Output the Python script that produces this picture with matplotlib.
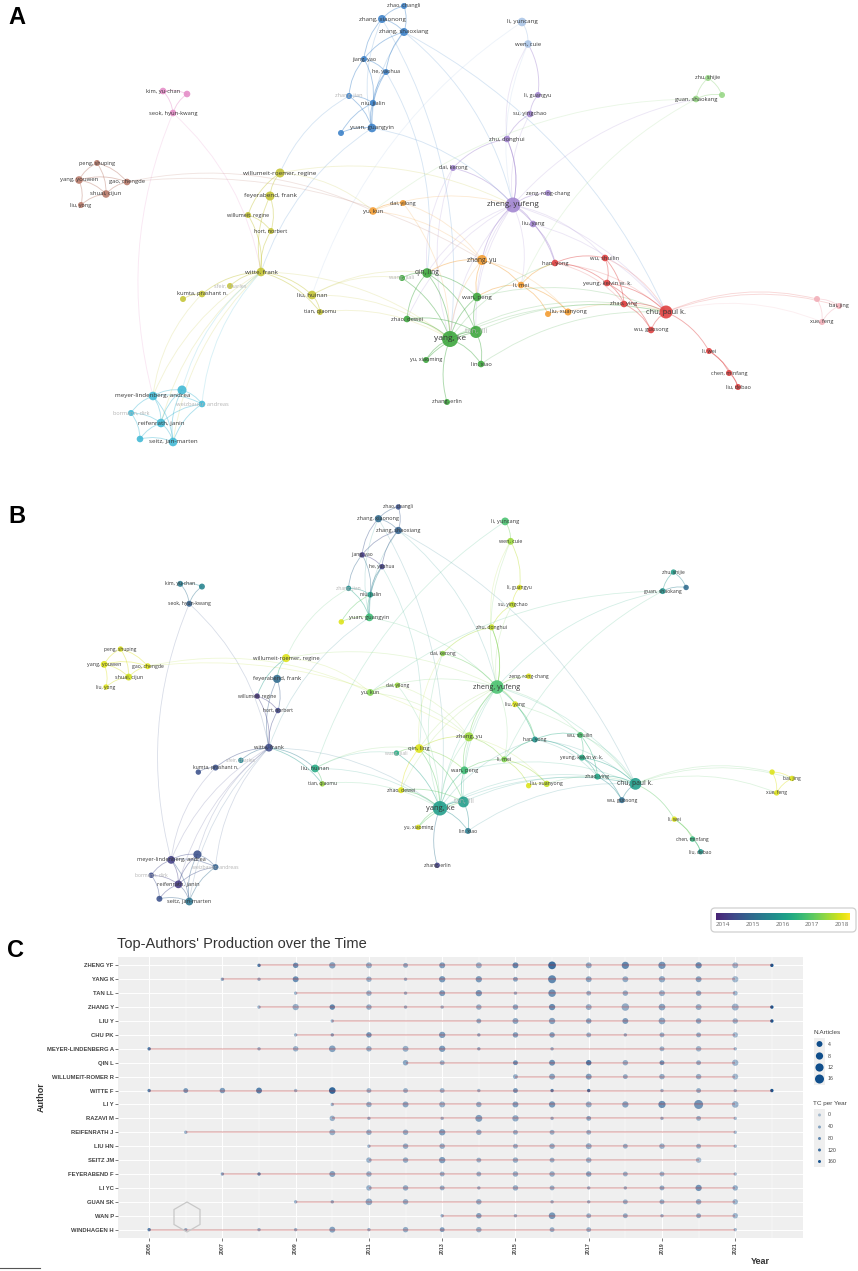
import numpy as np
import matplotlib
matplotlib.use('Agg')
import matplotlib.pyplot as plt
from matplotlib.path import Path
from matplotlib.patches import PathPatch, FancyBboxPatch, RegularPolygon, Rectangle
import matplotlib.colors as mcolors

# ---------------- network data (layout coordinates of the map) ----------------
node_id = ['zhao_changli','zhang_xiaonong','zhang_shaoxiang','jiang_yao','he_yaohua','zhang_jian','niu_jialin','yuan_guangyin','blue_u',
           'zheng_yufeng','zeng_rongchang','liu_yang','dai_kerong','zhu_donghui','su_yingchao','li_guangyu',
           'li_yuncang','wen_cuie',
           'zhu_shijie','guan_shaokang','lgreen_u',
           'kim_yuchan','pink_u','seok_hyunkwang',
           'peng_shuping','yang_youwen','gao_chengde','shuai_cijun','liu_yong',
           'willumeit_roemer','feyerabend','willumeit_regine','hort_norbert','witte_frank','sfeir_charles','kumta','yellow_u','liu_huinan','tian_qiaomu',
           'yu_kun','dai_yilong','zhang_yu','li_mei','liu_xuanyong','orange_u',
           'qin_ling','wang_jiali','wan_peng','zhao_dewei','tan_lili','yang_ke','yu_xiaoming','lin_xiao','zhang_erlin',
           'han_yong','wu_shuilin','yeung_kelvin','zhao_ying','chu_paulk','wu_guosong','li_wei','chen_minfang','liu_debao',
           'lpink_u','bai_jing','xue_feng',
           'meyer_lindenberg','cyan_u1','weizbauer','bormann','reifenrath','cyan_u2','seitz']
node_label = ['zhao, changli','zhang, xiaonong','zhang, shaoxiang','jiang, yao','he, yaohua','zhang, jian','niu, jialin','yuan, guangyin','',
              'zheng, yufeng','zeng, rong-chang','liu, yang','dai, kerong','zhu, donghui','su, yingchao','li, guangyu',
              'li, yuncang','wen, cuie',
              'zhu, shijie','guan, shaokang','',
              'kim, yu-chan','','seok, hyun-kwang',
              'peng, shuping','yang, youwen','gao, chengde','shuai, cijun','liu, yong',
              'willumeit-roemer, regine','feyerabend, frank','willumeit, regine','hort, norbert','witte, frank','sfeir, charles','kumta, prashant n.','','liu, huinan','tian, qiaomu',
              'yu, kun','dai, yilong','zhang, yu','li, mei','liu, xuanyong','',
              'qin, ling','wang, jiali','wan, peng','zhao, dewei','tan, lili','yang, ke','yu, xiaoming','lin, xiao','zhang, erlin',
              'han, yong','wu, shuilin','yeung, kelvin w. k.','zhao, ying','chu, paul k.','wu, guosong','li, wei','chen, minfang','liu, debao',
              '','bai, jing','xue, feng',
              'meyer-lindenberg, andrea','','weizbauer, andreas','bormann, dirk','reifenrath, janin','','seitz, jan-marten']
node_x = [404,382,404,364,386,349,373,372,341,
          513,548,533,453,507,530,538,
          522,528,
          708,696,722,
          163,187,173,
          97,79,127,106,81,
          280,270,248,271,261,230,202,183,312,320,
          373,403,482,521,568,548,
          427,402,477,407,476,450,426,481,447,
          555,605,607,624,666,651,709,729,738,
          817,839,822,
          153,182,202,131,161,140,173]
node_y = [6,19,32,59,72,96,103,128,133,
          205,193,224,168,139,114,95,
          22,44,
          78,99,95,
          91,94,113,
          163,180,182,194,205,
          173,196,215,231,272,286,294,299,295,312,
          211,203,260,285,312,314,
          273,278,297,319,332,339,360,364,402,
          263,258,283,304,312,330,351,373,387,
          299,306,322,
          396,390,404,413,423,439,442]
node_cluster = ['blue']*9 + ['purple']*7 + ['lightblue']*2 + ['lightgreen']*3 + ['pink']*3 + ['brown']*5 + \
               ['yellow']*10 + ['orange']*6 + ['green']*9 + ['red']*9 + ['lightpink']*3 + ['cyan']*7
node_weight = [3,4,4,3,3,3,3.2,4.3,3,
               7.5,3,3.3,3,3.3,3.3,3,
               4.3,3.8,
               3,3.3,3,
               3.3,3.3,3.3,
               3,3.8,3.3,3.8,3,
               4.5,4.5,3,3,4.3,3,3.3,3,4.3,3,
               3.8,3,5,3.3,3.5,3,
               4.8,3,4.3,3.3,6,8,3,3.3,3,
               3.3,3.3,3.3,3.3,6.5,3.3,3,3,3,
               3,3,3,
               4.3,4.5,3.3,3,4.3,3.3,4.3]
node_year = [2014.5,2015.0,2014.8,2014.1,2014.2,2015.7,2016.0,2016.7,2018.0,
             2016.8,2018.0,2018.0,2017.4,2017.8,2017.8,2018.0,
             2016.8,2017.5,
             2016.0,2015.8,2015.0,
             2015.3,2015.5,2014.8,
             2018.0,2018.0,2018.0,2017.9,2018.0,
             2018.0,2015.0,2014.0,2014.3,2014.4,2015.5,2014.5,2014.5,2016.3,2017.5,
             2017.3,2017.5,2017.5,2017.3,2017.8,2018.0,
             2018.0,2016.3,2016.7,2018.0,2016.0,2016.0,2018.0,2015.3,2014.2,
             2015.8,2016.8,2016.3,2016.2,2016.0,2015.0,2018.0,2016.5,2015.9,
             2018.0,2018.0,2018.0,
             2014.2,2014.5,2014.8,2014.4,2014.1,2014.5,2015.2]
faded_labels = ['zhang_jian','sfeir_charles','wang_jiali','tan_lili','weizbauer','bormann']

edges = [
    # blue cluster
    ('zhao_changli','zhang_xiaonong'),('zhao_changli','zhang_shaoxiang'),('zhang_xiaonong','zhang_shaoxiang'),
    ('zhang_xiaonong','jiang_yao'),('zhang_shaoxiang','he_yaohua'),('zhang_shaoxiang','jiang_yao'),
    ('jiang_yao','he_yaohua'),('jiang_yao','niu_jialin'),('he_yaohua','niu_jialin'),('niu_jialin','yuan_guangyin'),
    ('zhang_jian','niu_jialin'),('zhang_jian','yuan_guangyin'),('he_yaohua','yuan_guangyin'),('blue_u','yuan_guangyin'),
    ('zhang_jian','jiang_yao'),('zhang_shaoxiang','yuan_guangyin'),('zhang_xiaonong','yuan_guangyin'),('blue_u','niu_jialin'),
    ('zhang_shaoxiang','zheng_yufeng'),('zhang_xiaonong','yang_ke'),('yuan_guangyin','zheng_yufeng'),
    ('yuan_guangyin','witte_frank'),('zhang_jian','willumeit_roemer'),('zhang_shaoxiang','chu_paulk'),('he_yaohua','qin_ling'),
    # purple cluster
    ('zheng_yufeng','liu_yang'),('zheng_yufeng','zeng_rongchang'),('zheng_yufeng','dai_kerong'),('zheng_yufeng','zhu_donghui'),
    ('zhu_donghui','su_yingchao'),('su_yingchao','li_guangyu'),('li_guangyu','wen_cuie'),('zhu_donghui','wen_cuie'),
    ('zheng_yufeng','li_mei'),('zheng_yufeng','han_yong'),('zheng_yufeng','yang_ke'),('zheng_yufeng','tan_lili'),
    ('zheng_yufeng','wan_peng'),('zheng_yufeng','qin_ling'),('zheng_yufeng','zhang_yu'),('zheng_yufeng','chu_paulk'),
    ('liu_yang','chu_paulk'),('liu_yang','han_yong'),('zheng_yufeng','wu_shuilin'),('dai_kerong','yang_ke'),
    ('dai_kerong','qin_ling'),('zheng_yufeng','guan_shaokang'),('zheng_yufeng','zhao_dewei'),('zhu_donghui','zheng_yufeng'),
    ('dai_kerong','zhu_donghui'),('su_yingchao','zheng_yufeng'),
    # light blue
    ('li_yuncang','wen_cuie'),('li_yuncang','liu_huinan'),('wen_cuie','zheng_yufeng'),
    # light green
    ('zhu_shijie','guan_shaokang'),('zhu_shijie','lgreen_u'),('guan_shaokang','lgreen_u'),('guan_shaokang','yu_kun'),
    ('guan_shaokang','li_mei'),
    # pink
    ('kim_yuchan','seok_hyunkwang'),('kim_yuchan','pink_u'),('seok_hyunkwang','pink_u'),('seok_hyunkwang','witte_frank'),
    ('seok_hyunkwang','meyer_lindenberg'),
    # brown
    ('peng_shuping','yang_youwen'),('peng_shuping','shuai_cijun'),('peng_shuping','gao_chengde'),('yang_youwen','shuai_cijun'),
    ('yang_youwen','liu_yong'),('yang_youwen','gao_chengde'),('shuai_cijun','liu_yong'),('shuai_cijun','gao_chengde'),
    ('gao_chengde','yu_kun'),('gao_chengde','zhang_yu'),
    # yellow
    ('willumeit_roemer','feyerabend'),('willumeit_roemer','willumeit_regine'),('feyerabend','hort_norbert'),('feyerabend','witte_frank'),
    ('willumeit_regine','hort_norbert'),('hort_norbert','witte_frank'),('witte_frank','sfeir_charles'),('witte_frank','kumta'),
    ('kumta','yellow_u'),('witte_frank','liu_huinan'),('witte_frank','tian_qiaomu'),('liu_huinan','tian_qiaomu'),
    ('witte_frank','meyer_lindenberg'),('witte_frank','reifenrath'),('witte_frank','seitz'),('kumta','meyer_lindenberg'),
    ('willumeit_roemer','yu_kun'),('willumeit_roemer','zheng_yufeng'),('liu_huinan','qin_ling'),('liu_huinan','yang_ke'),
    ('tian_qiaomu','yang_ke'),('liu_huinan','wang_jiali'),('witte_frank','yang_ke'),('willumeit_regine','witte_frank'),
    # orange
    ('yu_kun','dai_yilong'),('dai_yilong','zhang_yu'),('yu_kun','zheng_yufeng'),('zhang_yu','li_mei'),('zhang_yu','liu_xuanyong'),
    ('li_mei','liu_xuanyong'),('liu_xuanyong','orange_u'),('li_mei','orange_u'),('zhang_yu','wan_peng'),('zhang_yu','yang_ke'),
    ('zhang_yu','qin_ling'),('li_mei','wan_peng'),('li_mei','han_yong'),('liu_xuanyong','chu_paulk'),('dai_yilong','yang_ke'),
    ('yu_kun','zhang_yu'),
    # green
    ('qin_ling','yang_ke'),('qin_ling','wan_peng'),('qin_ling','tan_lili'),('qin_ling','wang_jiali'),('qin_ling','zhao_dewei'),
    ('wang_jiali','yang_ke'),('wan_peng','yang_ke'),('wan_peng','tan_lili'),('tan_lili','yang_ke'),('yang_ke','zhao_dewei'),
    ('yang_ke','yu_xiaoming'),('yang_ke','lin_xiao'),('tan_lili','lin_xiao'),('yang_ke','zhang_erlin'),('zhao_dewei','tan_lili'),
    ('yu_xiaoming','tan_lili'),('yang_ke','chu_paulk'),('tan_lili','chu_paulk'),('yang_ke','han_yong'),('wan_peng','chu_paulk'),
    ('yang_ke','zhao_ying'),('lin_xiao','chu_paulk'),
    # red
    ('han_yong','wu_shuilin'),('han_yong','yeung_kelvin'),('han_yong','zhao_ying'),('han_yong','chu_paulk'),
    ('wu_shuilin','yeung_kelvin'),('wu_shuilin','zhao_ying'),('wu_shuilin','chu_paulk'),('yeung_kelvin','zhao_ying'),
    ('yeung_kelvin','chu_paulk'),('zhao_ying','chu_paulk'),('zhao_ying','wu_guosong'),('chu_paulk','wu_guosong'),
    ('yeung_kelvin','wu_guosong'),('chu_paulk','li_wei'),('li_wei','chen_minfang'),('chen_minfang','liu_debao'),
    ('li_wei','liu_debao'),('chu_paulk','bai_jing'),('xue_feng','chu_paulk'),('chu_paulk','lpink_u'),
    # light pink
    ('lpink_u','bai_jing'),('lpink_u','xue_feng'),('bai_jing','xue_feng'),
    # cyan
    ('meyer_lindenberg','cyan_u1'),('meyer_lindenberg','bormann'),('meyer_lindenberg','reifenrath'),('meyer_lindenberg','seitz'),
    ('meyer_lindenberg','weizbauer'),('cyan_u1','weizbauer'),('cyan_u1','reifenrath'),('cyan_u1','seitz'),('reifenrath','seitz'),
    ('reifenrath','bormann'),('reifenrath','cyan_u2'),('seitz','cyan_u2'),('bormann','cyan_u2'),('weizbauer','seitz'),
    ('weizbauer','reifenrath'),('cyan_u1','witte_frank'),('weizbauer','witte_frank'),
]

cluster_colors = {'red': '#de3c3c', 'green': '#3aa53a', 'blue': '#3a80c8', 'yellow': '#c4c434',
                  'purple': '#a184d0', 'cyan': '#3fb8d4', 'orange': '#f39b2e', 'brown': '#b87868',
                  'pink': '#e48ac6', 'lightblue': '#a9c4e6', 'lightgreen': '#96d684', 'lightpink': '#f2aeb8'}

# ---------------- production over time data ----------------
authors = ['ZHENG YF','YANG K','TAN LL','ZHANG Y','LIU Y','CHU PK','MEYER-LINDENBERG A','QIN L','WILLUMEIT-ROMER R',
           'WITTE F','LI Y','RAZAVI M','REIFENRATH J','LIU HN','SEITZ JM','FEYERABEND F','LI YC','GUAN SK','WAN P','WINDHAGEN H']
prod_years = [
    [2008,2009,2010,2011,2012,2013,2014,2015,2016,2017,2018,2019,2020,2021,2022],
    [2007,2008,2009,2011,2012,2013,2014,2015,2016,2017,2018,2019,2020,2021],
    [2009,2011,2012,2013,2014,2015,2016,2017,2018,2019,2020,2021],
    [2008,2009,2010,2011,2012,2013,2014,2015,2016,2017,2018,2019,2020,2021,2022],
    [2010,2014,2015,2016,2017,2018,2019,2020,2021,2022],
    [2009,2010,2011,2013,2014,2015,2016,2017,2018,2019,2020,2021],
    [2005,2008,2009,2010,2011,2012,2013,2014,2016,2019,2020,2021],
    [2012,2013,2015,2016,2017,2018,2019,2020,2021],
    [2015,2016,2017,2018,2019,2020,2021],
    [2005,2006,2007,2008,2009,2010,2011,2012,2013,2014,2015,2016,2017,2019,2020,2021,2022],
    [2010,2011,2012,2013,2014,2015,2016,2017,2018,2019,2020,2021],
    [2010,2011,2013,2014,2015,2016,2017,2019,2020,2021],
    [2006,2010,2011,2012,2013,2014,2015,2016,2017,2021],
    [2011,2012,2013,2015,2016,2017,2018,2019,2020,2021],
    [2011,2012,2013,2014,2015,2016,2017,2020],
    [2007,2008,2010,2011,2013,2014,2015,2016,2017,2018,2019,2021],
    [2011,2012,2013,2014,2015,2016,2017,2018,2019,2020,2021],
    [2009,2010,2011,2012,2014,2016,2017,2018,2019,2020,2021],
    [2013,2014,2015,2016,2017,2018,2019,2020,2021],
    [2005,2006,2008,2009,2010,2011,2012,2013,2014,2016,2017,2021],
]
prod_freq = [
    [1,3,5,4,2,4,4,4,10,4,8,8,5,4,1],
    [1,1,4,3,1,5,5,2,11,4,4,5,4,5],
    [1,3,1,4,5,1,9,2,3,4,3,2],
    [1,5,3,3,1,1,3,3,5,4,9,6,4,7,1],
    [1,2,4,5,3,4,6,3,3,1],
    [1,1,3,5,1,3,3,2,1,2,2,3],
    [1,1,3,6,3,4,5,1,1,2,3,1],
    [3,2,2,4,3,3,2,2,5],
    [2,4,4,2,3,3,4],
    [1,2,3,4,1,6,2,2,2,1,2,1,1,1,2,1,1],
    [1,3,4,4,3,4,5,4,5,8,16,6],
    [3,1,1,7,5,1,2,1,2,1],
    [1,4,3,3,5,3,2,2,2,1],
    [1,3,3,2,3,4,2,3,2,1],
    [3,3,5,2,3,2,3,3],
    [1,1,4,3,2,2,3,3,3,2,2,1],
    [3,3,2,1,3,2,1,1,2,5,3],
    [1,1,6,3,3,1,1,2,2,3,3],
    [1,3,1,6,2,2,1,2,3],
    [1,1,1,1,4,1,3,2,3,2,2,1],
]
prod_tc = [
    [100,70,40,25,30,50,20,80,120,30,80,60,70,15,160],
    [40,25,70,20,20,55,50,40,80,35,25,30,40,10],
    [15,20,20,50,55,20,65,20,25,20,30,15],
    [20,20,80,25,20,15,20,35,70,20,25,35,20,15,160],
    [20,30,35,40,40,50,30,35,20,160],
    [15,40,60,50,30,45,45,20,25,25,25,10],
    [100,20,20,40,25,20,50,30,20,20,15,15],
    [35,20,70,65,100,25,65,25,15],
    [25,35,45,25,25,20,10],
    [90,55,50,90,15,130,20,20,20,15,60,90,120,15,25,15,160],
    [20,25,35,25,25,45,55,25,40,70,60,20],
    [20,20,15,45,30,20,35,20,20,10],
    [20,20,25,25,45,25,25,20,20,10],
    [20,25,25,20,25,25,20,20,20,15],
    [20,25,45,20,25,20,20,5],
    [40,80,40,20,25,20,25,25,40,20,20,10],
    [20,25,25,20,25,20,20,20,30,60,25],
    [20,30,30,25,25,20,20,20,25,25,15],
    [25,40,20,55,20,25,20,25,15],
    [90,20,20,20,40,20,25,45,20,20,20,10],
]
legend_freq = [4, 8, 12, 16]
legend_tc = [0, 40, 80, 120, 160]
cbar_years = [2014, 2015, 2016, 2017, 2018]

# ---------------- figure ----------------
W, H = 858, 1271
fig = plt.figure(figsize=(W / 100, H / 100), dpi=100)
fig.patch.set_facecolor('white')


def px_axes(x0, y0, w, h, **kw):
    return fig.add_axes([x0 / W, 1 - (y0 + h) / H, w / W, h / H], **kw)


idx = {n: i for i, n in enumerate(node_id)}
vir = plt.get_cmap('viridis')
ovl_cmap = mcolors.LinearSegmentedColormap.from_list('vir_trunc', vir(np.linspace(0.1, 1.0, 256)))
Y0, Y1 = 2013.76, 2018.27   # colour scale extent of the overlay


def year_color(y):
    return ovl_cmap(np.clip((y - Y0) / (Y1 - Y0), 0, 1))


def draw_network(ax, scale, overlay):
    ax.set_xlim(0, 858)
    ax.set_ylim(460, 0)
    ax.axis('off')
    for a, b in edges:
        i, j = idx[a], idx[b]
        if node_x[i] > node_x[j]:
            i, j = j, i
        x1, y1, x2, y2 = node_x[i], node_y[i], node_x[j], node_y[j]
        mx, my = (x1 + x2) / 2, (y1 + y2) / 2
        dx, dy = x2 - x1, y2 - y1
        cx, cy = mx + 0.17 * dy, my - 0.17 * dx
        path = Path([(x1, y1), (cx, cy), (x2, y2)], [Path.MOVETO, Path.CURVE3, Path.CURVE3])
        if overlay:
            col = year_color((node_year[i] + node_year[j]) / 2)
        else:
            col = cluster_colors[node_cluster[idx[a]]]
        L = np.hypot(dx, dy)
        alpha = 0.42 if L < 80 else 0.2
        ax.add_patch(PathPatch(path, fc='none', ec=col, lw=0.65 * scale, alpha=alpha, zorder=1))
    cols = [year_color(y) if overlay else cluster_colors[c] for y, c in zip(node_year, node_cluster)]
    sizes = [(2 * w * scale * 0.72) ** 2 for w in node_weight]
    ax.scatter(node_x, node_y, s=sizes, c=cols, alpha=0.88, linewidths=0, zorder=3)
    for i, lab in enumerate(node_label):
        if not lab:
            continue
        fs = (2.8 + 0.4 * node_weight[i]) * scale
        col = '#b4b4b4' if node_id[i] in faded_labels else '#383838'
        ax.text(node_x[i], node_y[i], lab, fontsize=fs, color=col, ha='center', va='center',
                family=['Open Sans', 'DejaVu Sans'], zorder=4)


axA = px_axes(0, 0, 858, 460)
draw_network(axA, 1.0, False)

sB = 0.905
axB = px_axes(32.7, 501.5, 858 * sB, 460 * sB)
draw_network(axB, sB, True)

# colorbar for overlay
axcb = px_axes(716, 913, 134, 7)
grad = np.linspace(Y0, Y1, 256)[None, :]
axcb.imshow(grad, aspect='auto', cmap=ovl_cmap, vmin=Y0, vmax=Y1, extent=[Y0, Y1, 0, 1])
axcb.set_xlim(Y0, Y1)
axcb.set_yticks([])
axcb.set_xticks(cbar_years)
axcb.set_xticklabels([str(y) for y in cbar_years], fontsize=4.5, color='#666666',
                     family=['Open Sans', 'DejaVu Sans'])
axcb.tick_params(axis='x', length=0, pad=1.5)
for s in axcb.spines.values():
    s.set_visible(False)

# ---------------- panel C ----------------
axc = px_axes(118, 957, 685, 281)
axc.set_facecolor('#EFEFEF')
axc.set_xlim(2004.15, 2022.85)
axc.set_ylim(len(authors) - 0.4, -0.6)
for s in axc.spines.values():
    s.set_visible(False)
axc.set_xticks(range(2005, 2022, 2))
axc.set_xticks(range(2006, 2023, 2), minor=True)
axc.set_yticks(range(len(authors)))
axc.grid(True, which='major', color='white', lw=0.7)
axc.grid(True, which='minor', axis='x', color='white', lw=0.35)
axc.set_axisbelow(True)
axc.set_yticklabels(authors, fontsize=4.2, fontweight='bold', color='#444444', family='Liberation Sans')
axc.set_xticklabels([str(y) for y in range(2005, 2022, 2)], fontsize=3.8, fontweight='bold',
                    color='#444444', rotation=90, family='Liberation Sans')
axc.tick_params(axis='y', length=2, width=0.5, color='#444444', pad=1)
axc.tick_params(axis='x', which='major', length=2, width=0.5, color='#444444', pad=1)
axc.tick_params(axis='x', which='minor', length=0)

navy = np.array(mcolors.to_rgb('#104E8B'))
tc_max = 170.0
fmax = 16.0


def dot_px(f):
    return 3.4 + 5.6 * np.sqrt(np.clip((np.asarray(f, float) - 1) / (fmax - 1), 0, 1))


def dot_alpha(tc):
    return 0.32 + 0.68 * np.clip(np.asarray(tc, float) / tc_max, 0, 1)


for i, a in enumerate(authors):
    yrs = prod_years[i]
    d = dot_px(prod_freq[i])
    al = dot_alpha(prod_tc[i])
    rgba = np.column_stack([np.tile(navy, (len(yrs), 1)), al])
    axc.scatter(yrs, [i] * len(yrs), s=(d * 0.72) ** 2, c=rgba, linewidths=0, zorder=2)
    axc.plot([min(yrs), max(yrs)], [i, i], color='firebrick', alpha=0.3, lw=1.1, zorder=3,
             solid_capstyle='butt')

# ---------------- overlay: letters, titles, legends ----------------
ov = fig.add_axes([0, 0, 1, 1], zorder=10)
ov.set_xlim(0, W)
ov.set_ylim(H, 0)
ov.axis('off')
ov.patch.set_alpha(0)

for lab, x, y in [('A', 8, 24), ('B', 8, 523), ('C', 7, 957)]:
    ov.text(x, y, lab, fontsize=17, fontweight='bold', color='black', ha='left', va='baseline',
            family='Liberation Sans')

ov.add_patch(FancyBboxPatch((711, 908), 145, 24, boxstyle='round,pad=0,rounding_size=4',
                            fc='none', ec='#d0d0d0', lw=0.9))

ov.text(117, 944, "Top-Authors' Production over the Time", fontsize=10.5, color='#333333',
        ha='left', va='center', family='Liberation Sans')
ov.text(41, 1097, 'Author', fontsize=6.5, fontweight='bold', color='#333333', rotation=90,
        ha='center', va='center', family='Liberation Sans')
ov.text(760, 1261, 'Year', fontsize=6.5, fontweight='bold', color='#333333', ha='center',
        va='center', family='Liberation Sans')

# legend N.Articles
ov.text(813, 1032, 'N.Articles', fontsize=4.6, color='#444444', ha='left', va='center',
        family='Liberation Sans')
ov.add_patch(Rectangle((814, 1038), 11, 47, fc='#EFEFEF', ec='none'))
ly = [1044, 1056, 1067.5, 1079]
ov.scatter([819.5] * 4, ly, s=(dot_px(legend_freq) * 0.72) ** 2, c=[navy], linewidths=0, zorder=11)
for v, y in zip(legend_freq, ly):
    ov.text(828, y, str(v), fontsize=3.8, color='#444444', ha='left', va='center', family='Liberation Sans')

# legend TC per Year
ov.text(813, 1103, 'TC per Year', fontsize=4.6, color='#444444', ha='left', va='center',
        family='Liberation Sans')
ov.add_patch(Rectangle((814, 1109), 11, 58, fc='#EFEFEF', ec='none'))
ty = [1115, 1127, 1138.5, 1150, 1161.5]
tal = dot_alpha(legend_tc)
ov.scatter([819.5] * 5, ty, s=(3.0 * 0.72) ** 2, c=np.column_stack([np.tile(navy, (5, 1)), tal]),
           linewidths=0, zorder=11)
for v, y in zip(legend_tc, ty):
    ov.text(828, y, str(v), fontsize=3.8, color='#444444', ha='left', va='center', family='Liberation Sans')

# watermark logo outline
ov.add_patch(RegularPolygon((187, 1217), numVertices=6, radius=15, orientation=0,
                            fc='none', ec='#c8c8c8', lw=0.9, zorder=9))
ov.plot([0, 40], [1268, 1268], color='#555555', lw=0.8)

fig.savefig('out.png', dpi=100)
